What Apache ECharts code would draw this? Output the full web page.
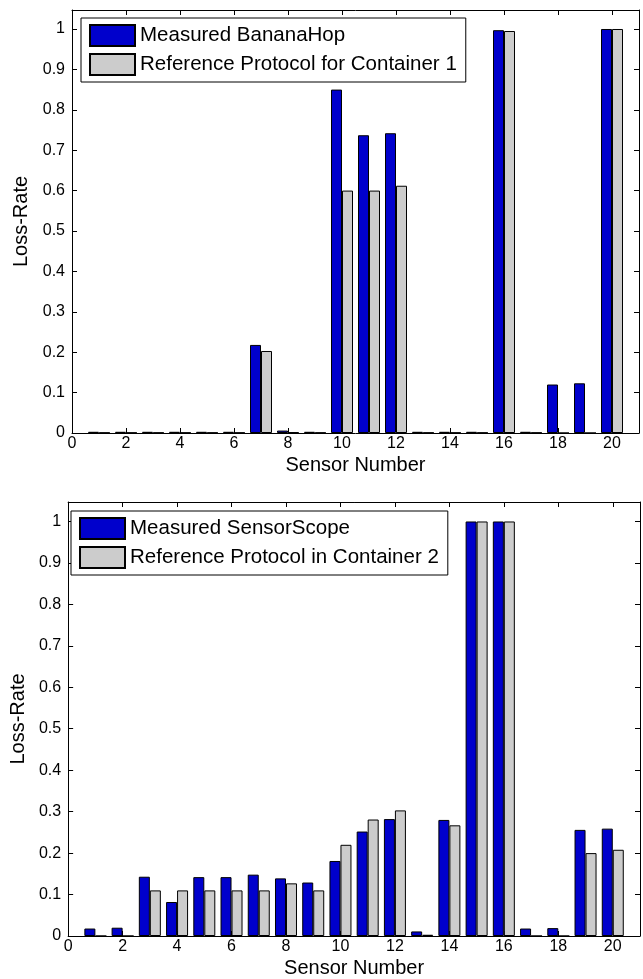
<!DOCTYPE html>
<html>
<head>
<meta charset="utf-8">
<script src="https://cdn.jsdelivr.net/npm/echarts@6/dist/echarts.min.js"></script>
<style>
html,body{margin:0;padding:0;background:#fff;}
#c{width:643px;height:979px;}
</style>
</head>
<body>
<div id="c"></div>
<script>
// Sensor numbers
const sensors = [1,2,3,4,5,6,7,8,9,10,11,12,13,14,15,16,17,18,19,20];
// Top chart: Container 1
const measuredBananaHop = [0.003,0.003,0.003,0.003,0.003,0.003,0.218,0.006,0.003,0.850,0.737,0.742,0.003,0.003,0.003,0.997,0.003,0.120,0.123,1.000];
const referenceC1 = [0.001,0.001,0.001,0.001,0.001,0.001,0.203,0.002,0.001,0.600,0.600,0.612,0.001,0.001,0.001,0.995,0.001,0.000,0.000,1.000];
// Bottom chart: Container 2
const measuredSensorScope = [0.018,0.020,0.143,0.082,0.142,0.142,0.148,0.139,0.129,0.181,0.252,0.282,0.011,0.280,1.000,1.000,0.018,0.019,0.256,0.259];
const referenceC2 = [0.000,0.000,0.110,0.110,0.110,0.110,0.110,0.127,0.110,0.220,0.281,0.303,0.003,0.267,1.000,1.000,0.000,0.000,0.200,0.208];
// Axis ticks
const xTicks = [0,2,4,6,8,10,12,14,16,18,20];
const yTicks = [0,0.1,0.2,0.3,0.4,0.5,0.6,0.7,0.8,0.9,1];
const seriesNames = ['Measured BananaHop','Reference Protocol for Container 1','Measured SensorScope','Reference Protocol in Container 2'];

const FONT = 'Liberation Sans, Arial, sans-serif';
const X_MAX = 21, Y_MAX = 1.047;
const BLUE = '#0000CC', GRAY = '#CCCCCC';

function pairs(vals){ return sensors.map((s,i)=>[s, vals[i]]); }
function xFmt(v){ const r=Math.round(v); return Math.abs(v-r)<1e-6 && xTicks.indexOf(r)>=0 ? String(r) : ''; }
function yFmt(v){ const r=Math.round(v*10)/10; return Math.abs(v-r)<1e-6 && yTicks.indexOf(r)>=0 ? String(r) : ''; }

const tickStyle = {show:true, inside:true, length:5, lineStyle:{color:'#000', width:1}};
const lineStyle = {show:true, onZero:false, lineStyle:{color:'#000', width:1}};

function mainX(g, name){
  return {type:'value', gridIndex:g, min:0, max:X_MAX, interval:2, position:'bottom',
    name:name, nameLocation:'middle', nameGap:22, nameTextStyle:{fontFamily:FONT,fontSize:20,color:'#000'},
    axisLine:lineStyle, axisTick:tickStyle, splitLine:{show:false},
    axisLabel:{show:true, formatter:xFmt, fontFamily:FONT, fontSize:16, color:'#000', margin:3}};
}
function boxX(g){
  return {type:'value', gridIndex:g, min:0, max:X_MAX, interval:2, position:'top',
    axisLine:lineStyle, axisTick:tickStyle, splitLine:{show:false}, axisLabel:{show:false}};
}
function mainY(g, gap){
  return {type:'value', gridIndex:g, min:0, max:Y_MAX, interval:0.1, position:'left',
    name:'Loss-Rate', nameLocation:'middle', nameGap:gap, nameTextStyle:{fontFamily:FONT,fontSize:20,color:'#000'},
    axisLine:lineStyle, axisTick:tickStyle, splitLine:{show:false},
    axisLabel:{show:true, formatter:yFmt, fontFamily:FONT, fontSize:16, color:'#000', margin:7}};
}
function boxY(g){
  return {type:'value', gridIndex:g, min:0, max:Y_MAX, interval:0.1, position:'right',
    axisLine:lineStyle, axisTick:tickStyle, splitLine:{show:false}, axisLabel:{show:false}};
}
function barSeries(name, vals, color, xi, yi){
  return {type:'bar', name:name, data:pairs(vals), xAxisIndex:xi, yAxisIndex:yi,
    barWidth:11, barGap:'0%', itemStyle:{color:color, borderColor:'#000', borderWidth:1},
    emphasis:{disabled:true}, animation:false};
}
function legendFor(names, left, top){
  return {data:names, orient:'vertical', left:left, top:top, itemWidth:45, itemHeight:21, itemGap:6,
    padding:[6,9,6,8], backgroundColor:'#fff', borderColor:'#000', borderWidth:1,
    icon:'rect', selectedMode:false,
    textStyle:{fontFamily:FONT, fontSize:20.5, color:'#000'}};
}

const chart = echarts.init(document.getElementById('c'), null, {renderer:'canvas'});
chart.setOption({
  animation:false,
  backgroundColor:'#fff',
  grid:[
    {left:72, top:10, width:567, height:423},
    {left:64, top:502, width:577, height:434}
  ],
  xAxis:[mainX(0,'Sensor Number'), boxX(0), mainX(1,'Sensor Number'), boxX(1)],
  yAxis:[mainY(0,38), boxY(0), mainY(1,36), boxY(1)],
  legend:[legendFor([seriesNames[0],seriesNames[1]], 81, 18), legendFor([seriesNames[2],seriesNames[3]], 71, 511)],
  series:[
    barSeries(seriesNames[0], measuredBananaHop, BLUE, 0, 0),
    barSeries(seriesNames[1], referenceC1, GRAY, 0, 0),
    barSeries(seriesNames[2], measuredSensorScope, BLUE, 2, 2),
    barSeries(seriesNames[3], referenceC2, GRAY, 2, 2)
  ]
});
</script>
</body>
</html>
